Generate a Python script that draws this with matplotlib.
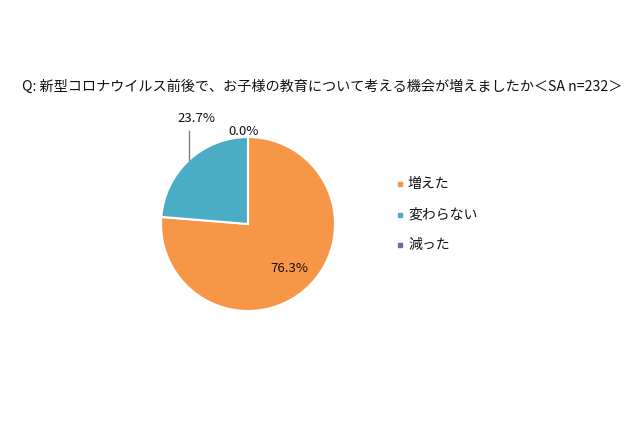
import numpy as np
import matplotlib
matplotlib.use("Agg")
import matplotlib.pyplot as plt

plt.rcParams['font.family'] = ['Noto Sans CJK JP', 'DejaVu Sans']

title = "Q: 新型コロナウイルス前後で、お子様の教育について考える機会が増えましたか＜SA n=232＞"
categories = ["増えた", "変わらない", "減った"]
values = [76.3, 23.7, 0.0]
value_labels = ["76.3%", "23.7%", "0.0%"]
colors = ["#F79646", "#4BACC6", "#8064A2"]

W, H = 640, 426
fig = plt.figure(figsize=(W / 100, H / 100), dpi=100)
ax = fig.add_axes([0, 0, 1, 1])
ax.set_xlim(0, W)
ax.set_ylim(0, H)
ax.set_aspect('equal')
ax.axis('off')

cx, cy, R = 248, H - 224, 87
ax.pie(values, colors=colors, startangle=90, counterclock=False,
       center=(cx, cy), radius=R,
       wedgeprops=dict(edgecolor='white', linewidth=1.5))
ax.set_xlim(0, W)
ax.set_ylim(0, H)

fig.text(322 / W, 1 - 87 / H, title, ha='center', va='center', fontsize=10.2, color='#111111')

# label angles from data
total = sum(values)
start = 90.0
mids = []
for v in values:
    ang = start - 360 * v / total / 2
    mids.append(ang)
    start -= 360 * v / total

# 76.3% inside
a = np.deg2rad(mids[0])
ax.text(cx + 0.7 * R * np.cos(a), cy + 0.7 * R * np.sin(a), value_labels[0],
        ha='center', va='center', fontsize=9.5, color='#111111')
# 23.7% outside with leader
a = np.deg2rad(mids[1])
ex, ey = cx + R * np.cos(a), cy + R * np.sin(a)
ax.plot([ex, ex], [ey, H - 131], color='#808080', lw=1)
ax.text(ex + 7, H - 118, value_labels[1], ha='center', va='center', fontsize=9.5, color='#111111')
# 0.0% at top
a = np.deg2rad(mids[2])
ax.text(cx + 1.1 * R * np.cos(a) - 4, cy + 1.1 * R * np.sin(a) - 3, value_labels[2],
        ha='center', va='center', fontsize=9.5, color='#111111')

# legend
for i, (c, col) in enumerate(zip(categories, colors)):
    y = H - (184 + 30.5 * i)
    ax.plot([400], [y], marker='s', markersize=3.5, color=col, linestyle='none')
    ax.text(408, y, c, ha='left', va='center', fontsize=10, color='#111111')

fig.savefig("out.png", dpi=100, facecolor='white')
